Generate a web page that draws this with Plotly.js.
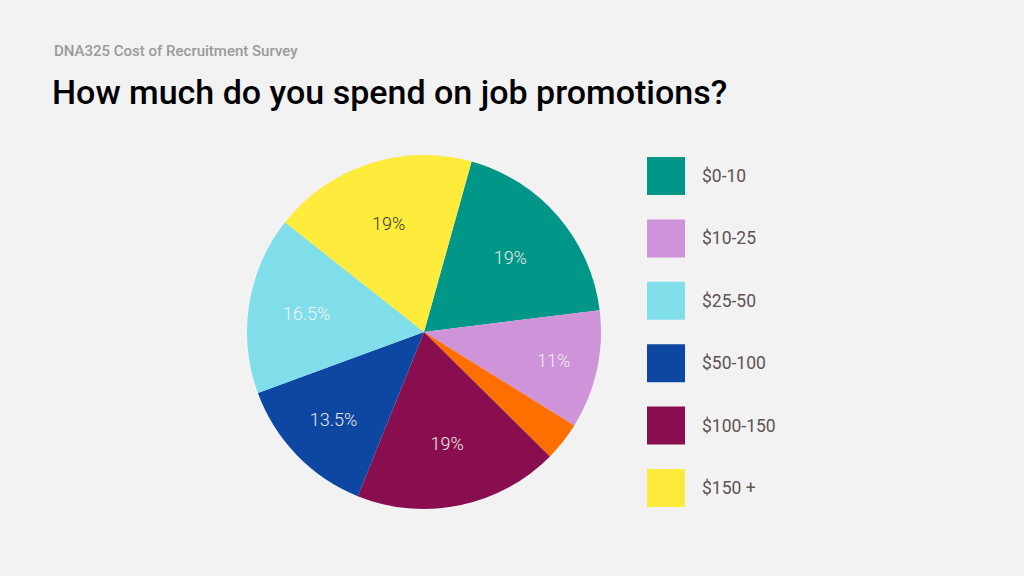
<!DOCTYPE html>
<html>
<head>
<meta charset="utf-8">
<script src="https://cdn.plot.ly/plotly-3.0.1.min.js"></script>
<style>
  html, body { margin: 0; padding: 0; background: #f2f2f2; }
  #grafico { width: 1024px; height: 576px; }
</style>
</head>
<body>
<div id="grafico"></div>
<script>
// slices in clockwise order from the top
const categorias = ["$0-10", "$10-25", "Other", "$100-150", "$50-100", "$25-50", "$150 +"];
const valores = [19, 11, 3.6, 19, 13.5, 16.5, 19];
const etiquetas = ["19%", "11%", "", "19%", "13.5%", "16.5%", "19%"];
const colores = ["#009688", "#ce93d8", "#ff6f00", "#880e4f", "#0d47a1", "#80deea", "#ffeb3b"];
const coloresTexto = ["#e8e8e8", "#f2f2f2", "#f2f2f2", "#e8e8e8", "#e8e8e8", "#f2f2f2", "#3a3a3a"];

// legend order (orange slice is not listed)
const leyenda = ["$0-10", "$10-25", "$25-50", "$50-100", "$100-150", "$150 +"];

const W = 1024, H = 576;

const grafico_pie = {
    type: 'pie',
    labels: categorias,
    values: valores,
    text: etiquetas,
    textinfo: 'text',
    textposition: 'inside',
    insidetextorientation: 'horizontal',
    sort: false,
    direction: 'clockwise',
    rotation: 15.6,
    marker: { colors: colores, line: { width: 0 } },
    insidetextfont: { family: 'Roboto', size: 18, color: coloresTexto, weight: 300 },
    hoverinfo: 'label+percent',
    showlegend: false,
    domain: {
        x: [(424 - 177) / W, (424 + 177) / W],
        y: [(H - 332 - 177) / H, (H - 332 + 177) / H]
    }
};

// custom legend: big squares + labels
const shapes = [];
const annotations = [];
leyenda.forEach((nombre, i) => {
    const color = colores[categorias.indexOf(nombre)];
    const top = 157 + i * 62.4;
    shapes.push({
        type: 'rect', xref: 'paper', yref: 'paper',
        x0: 647 / W, x1: 685 / W,
        y0: 1 - (top + 38) / H, y1: 1 - top / H,
        fillcolor: color, line: { width: 0 }
    });
    annotations.push({
        xref: 'paper', yref: 'paper',
        x: 700 / W, y: 1 - (top + 19) / H,
        xanchor: 'left', yanchor: 'middle',
        text: nombre, showarrow: false,
        font: { family: 'Roboto', size: 17.5, color: '#5f5252' }
    });
});

annotations.push({
    xref: 'paper', yref: 'paper', x: 52 / W, y: 1 - 51 / H,
    xanchor: 'left', yanchor: 'middle', showarrow: false,
    text: 'DNA325 Cost of Recruitment Survey',
    font: { family: 'Roboto', size: 15, color: '#9a9a9a', weight: 500 }
});
annotations.push({
    xref: 'paper', yref: 'paper', x: 50 / W, y: 1 - 92 / H,
    xanchor: 'left', yanchor: 'middle', showarrow: false,
    text: 'How much do you spend on job promotions?',
    font: { family: 'Roboto', size: 34, color: '#000000', weight: 500 }
});

const layout = {
    width: W, height: H,
    margin: { l: 0, r: 0, t: 0, b: 0 },
    paper_bgcolor: '#f2f2f2',
    plot_bgcolor: '#f2f2f2',
    shapes: shapes,
    annotations: annotations,
    showlegend: false
};

Plotly.newPlot('grafico', [grafico_pie], layout, { displayModeBar: false, staticPlot: true });
</script>
</body>
</html>
